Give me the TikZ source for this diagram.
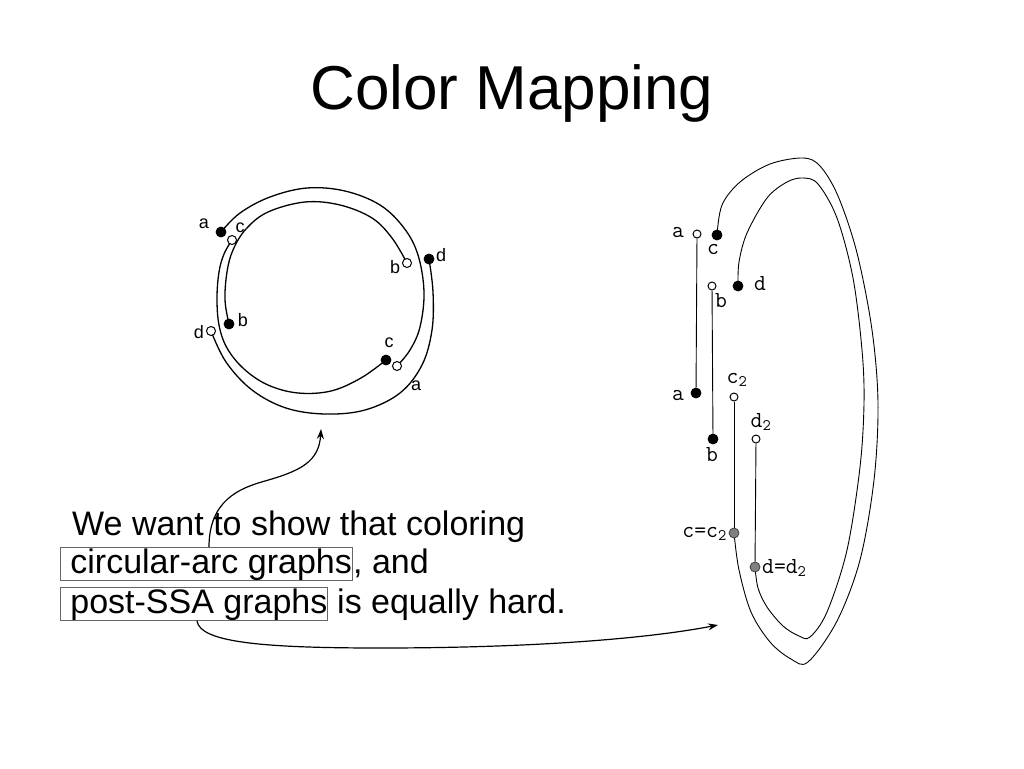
\documentclass[tikz,border=0pt]{standalone}
\usepackage{fontspec}
\setmainfont{Liberation Sans}
\usetikzlibrary{arrows.meta,backgrounds}
\begin{document}
\begin{tikzpicture}[x=1pt,y=-1pt,
  fdot/.style={circle,fill=black,draw=black,line width=0.8pt,inner sep=0pt,minimum size=10pt},
  odot/.style={circle,fill=white,draw=black,line width=1pt,inner sep=0pt,minimum size=9pt},
  gdot/.style={circle,fill=black!50,draw=black!75,line width=0.8pt,inner sep=0pt,minimum size=10pt},
  arcline/.style={line width=1.3pt},
  loopline/.style={line width=0.9pt},
  clab/.style={font=\fontsize{18}{20}\selectfont,inner sep=0pt},
  mlab/.style={font=\ttfamily\fontsize{23}{24}\selectfont,inner sep=0pt},
  body/.style={font=\fontsize{34}{40}\selectfont,inner sep=0pt,anchor=base west},
  framebox/.style={draw=black!60,line width=0.8pt,inner xsep=0pt,inner ysep=0.5pt,
    text height=25pt,text depth=7pt,font=\fontsize{34}{40}\selectfont,anchor=base west},
  pointer/.style={line width=1.2pt,-{Stealth[length=10pt,width=7pt]}}
]
\useasboundingbox (0,0) rectangle (1024,768);

% title
\node[font=\fontsize{62}{70}\selectfont,inner sep=0pt,anchor=base] (title) at (512,109) {Color Mapping};

% ---------- circular-arc graph ----------
\node[fdot] (aF) at (221,232) {};
\node[odot] (cO) at (232,240) {};
\node[odot] (bO) at (407,263) {};
\node[fdot] (dF) at (429,259) {};
\node[fdot] (bF) at (229,324) {};
\node[odot] (dO) at (211,331) {};
\node[fdot] (cF) at (386,360) {};
\node[odot] (aO) at (397,366) {};

\node[clab] (laF) at (204,224) {a};
\node[clab] (lcO) at (240,228) {c};
\node[clab] (lbO) at (395,267) {b};
\node[clab] (ldF) at (441,255) {d};
\node[clab] (lbF) at (243,320) {b};
\node[clab] (ldO) at (199,332) {d};
\node[clab] (lcF) at (389,343) {c};
\node[clab] (laO) at (416,386) {a};

\begin{pgfonlayer}{background}
\draw[arcline] plot[smooth,tension=0.6] coordinates {(aF) (240,213) (270,197) (307,188) (345,191) (380,205) (404,228) (418,255) (424,292) (420,327) (410,350) (aO)};
\draw[arcline] plot[smooth,tension=0.6] coordinates {(bO) (392,238) (372,218) (340,205) (305,202) (268,212) (246,229) (233,250) (227,272) (225,300) (bF)};
\draw[arcline] plot[smooth,tension=0.6] coordinates {(cO) (224,254) (219,272) (217,298) (219,325) (227,348) (244,369) (268,385) (298,393) (331,391) (361,378) (cF)};
\draw[arcline] plot[smooth,tension=0.6] coordinates {(dF) (433,292) (432,330) (422,365) (400,393) (365,410) (325,414) (286,408) (252,390) (226,362) (dO)};
\end{pgfonlayer}

% ---------- post-SSA graph ----------
\node[odot,minimum size=8pt] (raO) at (697,234) {};
\node[fdot] (rcF) at (717,235) {};
\node[odot,minimum size=8pt] (rbO) at (712,286) {};
\node[fdot] (rdF) at (738,286) {};
\node[fdot] (raF) at (696,393) {};
\node[odot,minimum size=8pt] (rc2O) at (734,397) {};
\node[odot,minimum size=8pt] (rd2O) at (756,439) {};
\node[fdot] (rbF) at (713,439) {};
\node[gdot] (rcc) at (734,533) {};
\node[gdot] (rdd) at (755,567) {};

\node[mlab] (lraO) at (678,233) {a};
\node[mlab] (lrcF) at (713,250) {c};
\node[mlab] (lrbO) at (721,301) {b};
\node[mlab] (lrdF) at (760,284) {d};
\node[mlab] (lraF) at (678,396) {a};
\node[mlab] (lrc2) at (737,380) {c\textsubscript{2}};
\node[mlab] (lrd2) at (761,422) {d\textsubscript{2}};
\node[mlab] (lrbF) at (712,455) {b};
\node[mlab,anchor=east] (lrcc) at (727,534) {c=c\textsubscript{2}};
\node[mlab,anchor=west] (lrdd) at (762,568) {d=d\textsubscript{2}};

\begin{pgfonlayer}{background}
\draw[loopline] (raO) -- (raF);
\draw[loopline] (rbO) -- (rbF);
\draw[loopline] (rc2O) -- (rcc);
\draw[loopline] (rd2O) -- (rdd);
\draw[loopline] plot[smooth,tension=0.55] coordinates {(rcF) (722,205) (740,182) (770,164) (803,158) (820,166) (838,196) (857,253) (872,330) (878,403) (874,480) (860,560) (837,621) (808,662) (791,659) (770,642) (751,612) (739,570) (rcc)};
\draw[loopline] plot[smooth,tension=0.55] coordinates {(rdF) (739,262) (747,233) (767,198) (787,182) (803,178) (818,184) (837,218) (853,278) (862,350) (864,403) (860,467) (847,550) (827,612) (810,637) (799,636) (783,626) (767,607) (758,588) (rdd)};
\end{pgfonlayer}

% ---------- text ----------
\node[body] (l1) at (72,535) {We want to show that coloring};
\node[framebox] (box1) at (60,573) {\hspace{10pt}circular-arc graphs\hspace{4pt}};
\node[body] (l2) at (353,573) {, and};
\node[framebox] (box2) at (60,613) {\hspace{10pt}post-SSA graphs\hspace{5pt}};
\node[body] (l3) at (337,613) {is equally hard.};

% ---------- arrows ----------
\coordinate (t1) at (321,429);
\coordinate (t2) at (718,625);
\draw[pointer] (209,0 |- box1.north) .. controls (209,500) and (240,488) .. (265,481)
   .. controls (300,471) and (319,462) .. (t1);
\draw[pointer] (197,0 |- box2.south) .. controls (200,642) and (260,648) .. (380,648)
   .. controls (520,648) and (640,640) .. (t2);
\end{tikzpicture}
\end{document}
